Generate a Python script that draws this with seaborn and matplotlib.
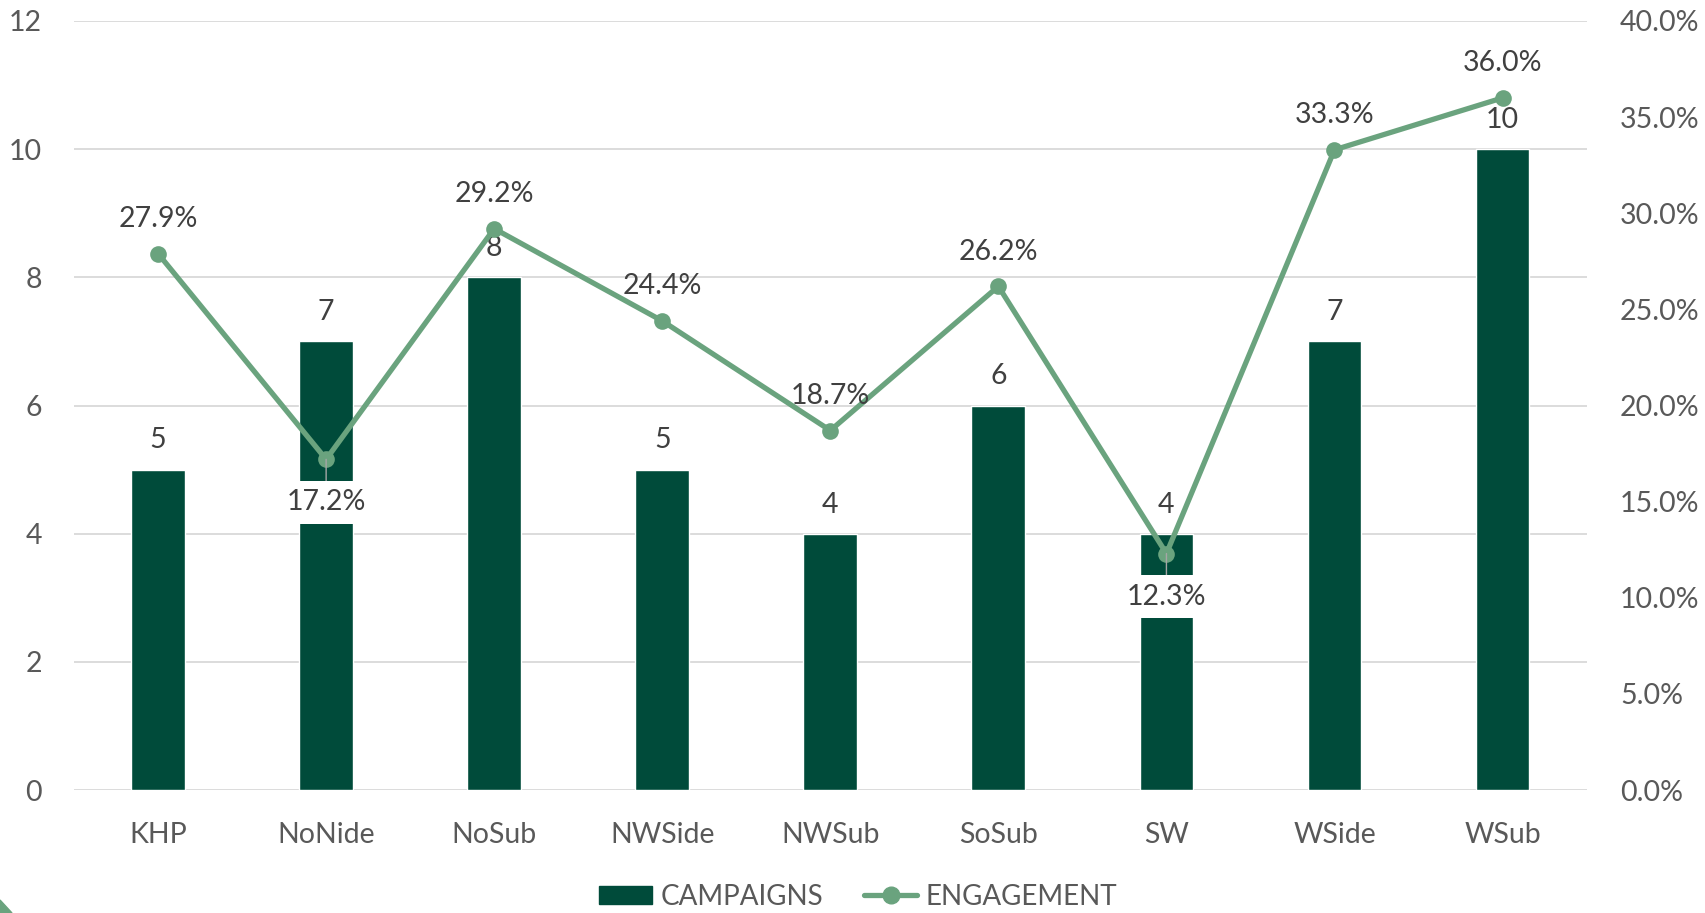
import numpy as np
import pandas as pd
import matplotlib
matplotlib.use("Agg")
import matplotlib.pyplot as plt
import seaborn as sns
from matplotlib.patches import Polygon, Patch
from matplotlib.lines import Line2D
from matplotlib.ticker import FuncFormatter, MultipleLocator

categories = ["KHP", "NoNide", "NoSub", "NWSide", "NWSub", "SoSub", "SW", "WSide", "WSub"]
campaigns = [5, 7, 8, 5, 4, 6, 4, 7, 10]
engagement = [27.9, 17.2, 29.2, 24.4, 18.7, 26.2, 12.3, 33.3, 36.0]
below_labels = ["NoNide", "SW"]

BAR = "#004B3A"
LINE = "#6AA37E"
TXT = "#404040"
TICK = "#595959"
FS = 20.5

sns.set_theme(style="white")
plt.rcParams["font.family"] = ["Lato", "DejaVu Sans"]

fig = plt.figure(figsize=(17.06, 9.13), dpi=100)
ax = fig.add_axes([0.0434, 0.1347, 0.8866, 0.8423])
df = pd.DataFrame({"cat": categories, "campaigns": campaigns, "eng": engagement})
sns.barplot(data=df, x="cat", y="campaigns", color=BAR, saturation=1, width=0.32, ax=ax, zorder=2)
ax.set_ylim(0, 12)
ax.set_xlim(-0.5, len(categories) - 0.5)
ax.yaxis.set_major_locator(MultipleLocator(2))
ax.grid(axis="y", color="#D9D9D9", linewidth=1.3, zorder=0)
ax.set_axisbelow(True)
for s in ax.spines.values():
    s.set_visible(False)
ax.set_xlabel("")
ax.set_ylabel("")
ax.tick_params(axis="both", length=0, labelsize=FS, labelcolor=TICK)
ax.tick_params(axis="x", pad=23)
ax.tick_params(axis="y", pad=23)

ax2 = ax.twinx()
ax2.set_ylim(0, 40)
sns.lineplot(x=np.arange(len(categories)), y=engagement, ax=ax2, color=LINE, linewidth=3.8,
             marker="o", markersize=12, markeredgewidth=0, zorder=3)
ax2.yaxis.set_major_locator(MultipleLocator(5))
ax2.yaxis.set_major_formatter(FuncFormatter(lambda v, p: f"{v:.1f}%"))
ax2.tick_params(axis="y", length=0, labelsize=FS, labelcolor=TICK, pad=24)
for s in ax2.spines.values():
    s.set_visible(False)
ax2.grid(False)
ax2.set_xlim(-0.5, len(categories) - 0.5)

# bar labels
for i, v in enumerate(campaigns):
    ax.annotate(f"{v}", (i, v), xytext=(0, 21), textcoords="offset points",
                ha="center", va="center", fontsize=FS, color=TXT, zorder=5)

# line labels
for i, (c, v) in enumerate(zip(categories, engagement)):
    if c in below_labels:
        ax2.annotate(f"{v:.1f}%", (i, v), xytext=(0, -31), textcoords="offset points",
                     ha="center", va="center", fontsize=FS, color=TXT, zorder=6,
                     bbox=dict(boxstyle="square,pad=0.3", fc="white", ec="none"),
                     arrowprops=dict(arrowstyle="-", color="#A6A6A6", lw=1, shrinkA=0, shrinkB=0))
    else:
        ax2.annotate(f"{v:.1f}%", (i, v), xytext=(0, 25), textcoords="offset points",
                     ha="center", va="center", fontsize=FS, color=TXT, zorder=6)

# legend
handles = [Patch(color=BAR, label="CAMPAIGNS"),
           Line2D([0], [0], color=LINE, lw=3.8, marker="o", markersize=12, label="ENGAGEMENT")]
leg = fig.legend(handles=handles, loc="center", bbox_to_anchor=(0.503, 0.018), ncol=2,
                 frameon=False, fontsize=20, handlelength=1.9, handleheight=0.6,
                 columnspacing=1.5, handletextpad=0.3)
for t in leg.get_texts():
    t.set_color(TICK)

# corner decoration
fig.patches.append(Polygon([[0, 0], [0, 13 / 913], [12 / 1706, 0]], closed=True,
                           transform=fig.transFigure, color=LINE, figure=fig))

fig.savefig("out.png", dpi=100)
